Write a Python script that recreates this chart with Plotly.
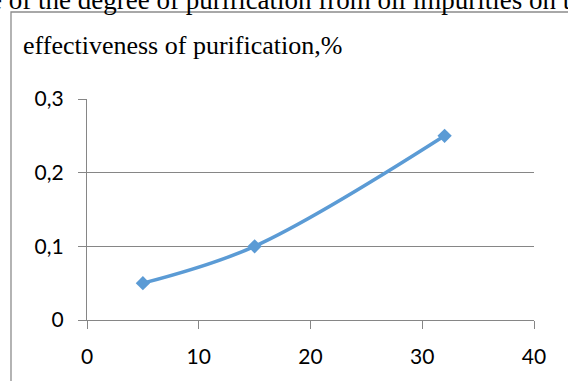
import plotly.graph_objects as go

# data
x_vals = [5, 15, 32]
y_vals = [0.05, 0.10, 0.25]
x_ticks = [0, 10, 20, 30, 40]
y_ticks = [0, 0.1, 0.2, 0.3]
y_tick_labels = ["0", "0,1", "0,2", "0,3"]
title_text = "effectiveness of purification,%"
caption_text = "e of the degree of purification from oil impurities on t"

W, H = 568, 381
L, R, T, B = 87, 34, 99, 61
pw, ph = W - L - R, H - T - B

def px(x):
    return (x - L) / pw

def py(y):
    return (H - B - y) / ph

fig = go.Figure()
fig.add_trace(go.Scatter(
    x=x_vals, y=y_vals, mode="lines+markers",
    line=dict(color="#5B9BD5", width=3.5, shape="spline", smoothing=1),
    marker=dict(symbol="diamond", size=11, color="#5B9BD5"),
    showlegend=False, hoverinfo="skip",
))

axis_font = dict(family="Lato, 'Open Sans', sans-serif", size=21, color="#000000")
fig.update_xaxes(
    range=[0, 40], tickvals=x_ticks, showgrid=False, zeroline=False,
    showline=True, linecolor="#868686", linewidth=1.3,
    ticks="outside", ticklen=8, tickcolor="#868686", tickwidth=1.3,
    tickfont=axis_font, ticklabelstandoff=10,
)
fig.update_yaxes(
    range=[0, 0.3], tickvals=y_ticks, ticktext=y_tick_labels,
    showgrid=True, gridcolor="#868686", gridwidth=1.3, zeroline=False,
    showline=True, linecolor="#868686", linewidth=1.3,
    ticks="outside", ticklen=8, tickcolor="#868686", tickwidth=1.3,
    tickfont=axis_font, ticklabelstandoff=10,
)

serif = "'Liberation Serif', 'Times New Roman', serif"
fig.update_layout(
    width=W, height=H,
    margin=dict(l=L, r=R, t=T, b=B, pad=0),
    paper_bgcolor="white", plot_bgcolor="white",
    shapes=[dict(type="rect", xref="paper", yref="paper",
                 x0=px(11), x1=px(W + 20), y0=py(H + 20), y1=py(12),
                 line=dict(color="#8c8c8c", width=1.3), layer="below")],
    annotations=[
        dict(text=title_text, xref="paper", yref="paper",
             x=px(21), y=py(62), xanchor="left", yanchor="bottom",
             showarrow=False, font=dict(family=serif, size=26, color="#000")),
        dict(text=caption_text, xref="paper", yref="paper",
             x=px(-12), y=py(17), xanchor="left", yanchor="bottom",
             showarrow=False, font=dict(family=serif, size=27, color="#000")),
    ],
)

fig.write_html("out.html", config={"displayModeBar": False},
               post_script="document.body.style.margin='0';document.body.style.overflow='hidden';")
